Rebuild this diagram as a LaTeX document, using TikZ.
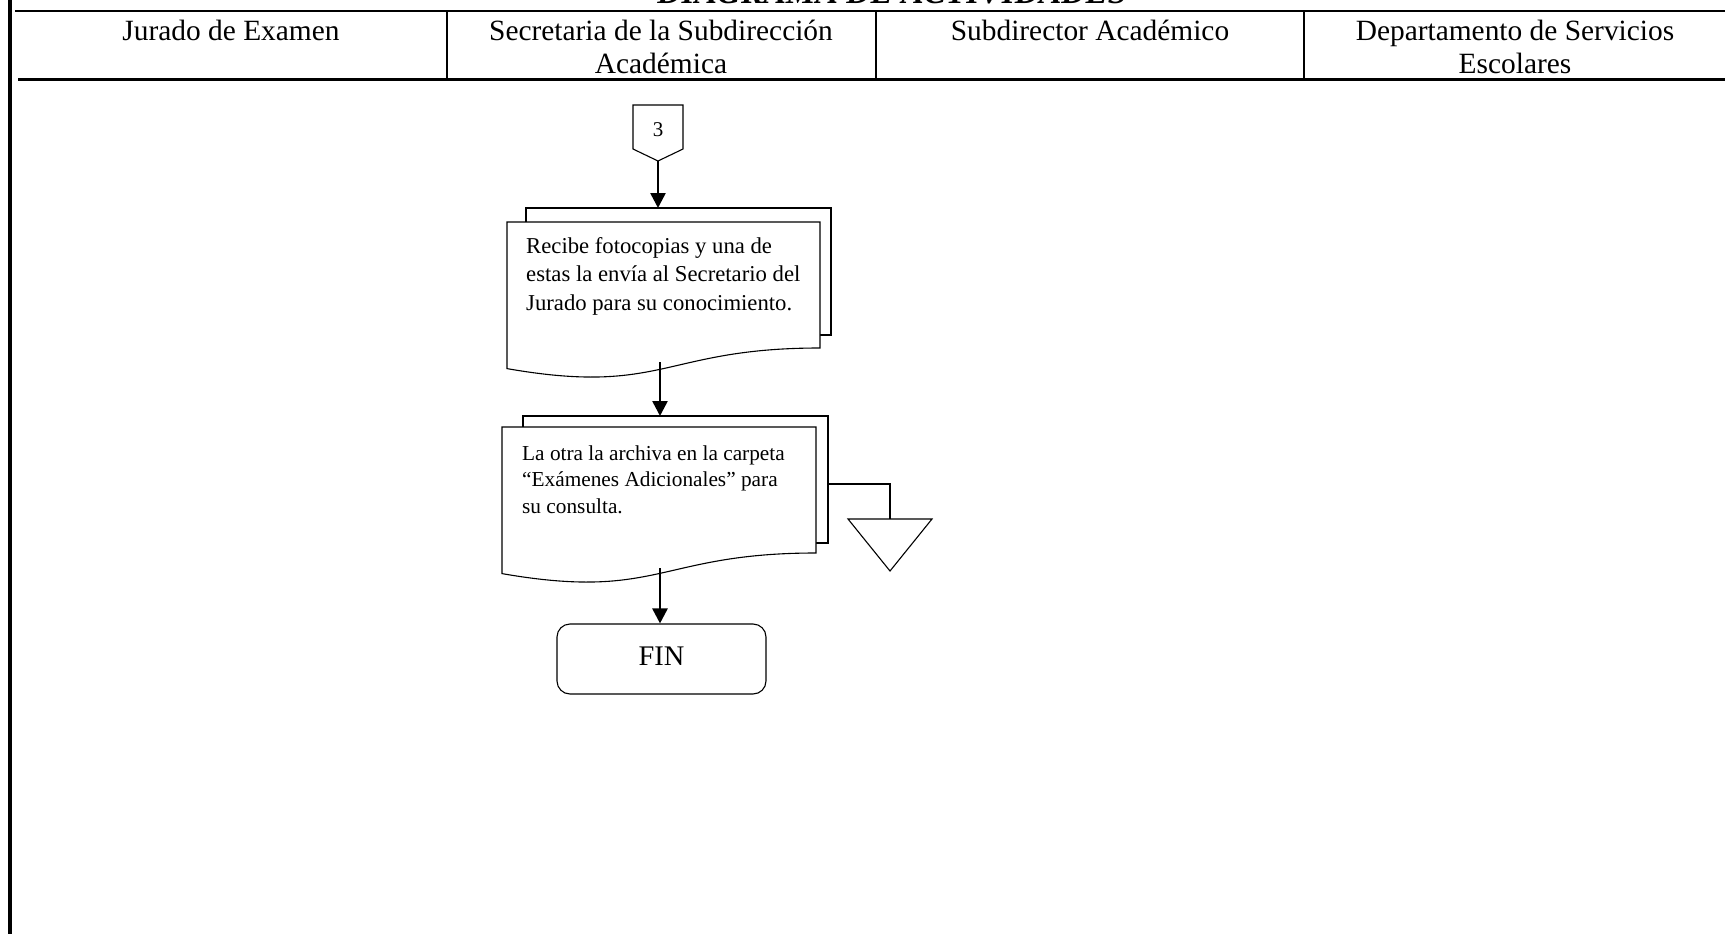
\documentclass[tikz,border=0pt]{standalone}
\usepackage{fontspec}
\setmainfont{Liberation Serif}
\usetikzlibrary{arrows.meta,calc}
\begin{document}
\begin{tikzpicture}[x=1pt,y=-1pt,
  shapeline/.style={line width=1.1pt, line join=miter},
  flow/.style={line width=2.6pt, -{Triangle[length=15pt,width=15pt]}},
  plainline/.style={line width=1.1pt},
  hdr/.style={font=\fontsize{29.4}{32.5}\selectfont, align=center, inner sep=0pt, anchor=base},
  body/.style={align=left, inner sep=0pt, anchor=base west},
]
\clip (0,0) rectangle (1725,934);
\fill[white] (0,0) rectangle (1725,934);

% title (cut at top)
\node[font=\fontsize{33.5}{36}\selectfont\bfseries\itshape, anchor=base, inner sep=0pt] (title) at (892,4) {DIAGRAMA DE ACTIVIDADES};

% frame and header
\draw[line width=4pt] (10,0) -- (10,934);
\draw[line width=2.5pt] (15,11) -- (1725,11);
\draw[line width=3pt] (18,80) -- (1725,80);
\foreach \x in {447,876,1304} \draw[line width=1.5pt] (\x,11) -- (\x,80);

\node[hdr] (h1) at (231,41) {Jurado de Examen};
\node[hdr] (h2) at (661,73.5) {Secretaria de la Subdirección\\Académica};
\node[hdr] (h3) at (1090,41) {Subdirector Académico};
\node[hdr] (h4) at (1515,73.5) {Departamento de Servicios\\Escolares};

% off-page connector 3
\draw[shapeline] (633,105) -- (683,105) -- (683,149) -- (658,161) -- (633,149) -- cycle;
\node[font=\fontsize{21}{24}\selectfont, inner sep=0pt] (c3) at (658,130) {3};
\coordinate (c3tip) at (658,161);

% document 1
\draw[shapeline] (526,222) -- (526,208) -- (831,208) -- (831,335) -- (820,335);
\draw[shapeline, fill=white] (507,222) -- (820,222) -- (820,348) .. controls (663.5,348) and (663.5,396) .. (507,368.6) -- cycle;
\node[body, font=\fontsize{22.7}{28.5}\selectfont] (t1) at (526,310) {Recibe fotocopias y una de\\estas la envía al Secretario del\\Jurado para su conocimiento.};
\coordinate (d1top) at (658,208);
\coordinate (d1bot) at (660,362);

% document 2
\draw[shapeline] (523,427) -- (523,416) -- (828,416) -- (828,543) -- (816,543);
\draw[shapeline, fill=white] (502,427) -- (816,427) -- (816,553) .. controls (659,553) and (659,601) .. (502,573.6) -- cycle;
\node[body, font=\fontsize{21.3}{26.5}\selectfont] (t2) at (522,513) {La otra la archiva en la carpeta\\“Exámenes Adicionales” para\\su consulta.};
\coordinate (d2top) at (660,416);
\coordinate (d2bot) at (660,568);
\coordinate (d2side) at (828,484);

% archive triangle
\draw[shapeline] (848,519) -- (932,519) -- (890,571) -- cycle;
\coordinate (arch) at (890,519);

% end
\node[draw, rounded corners=13pt, minimum width=209pt, minimum height=70pt, line width=1.1pt, font=\fontsize{28.4}{30}\selectfont, text depth=6pt, inner sep=0pt] (fin) at (661.5,659) {FIN};

% connectors
\draw[flow] (c3tip) -- (d1top);
\draw[flow] (d1bot) -- (d1bot |- d2top);
\draw[flow] (d2bot) -- (d2bot |- fin.north);
\draw[plainline] (d2side) -| (arch);
\end{tikzpicture}
\end{document}
